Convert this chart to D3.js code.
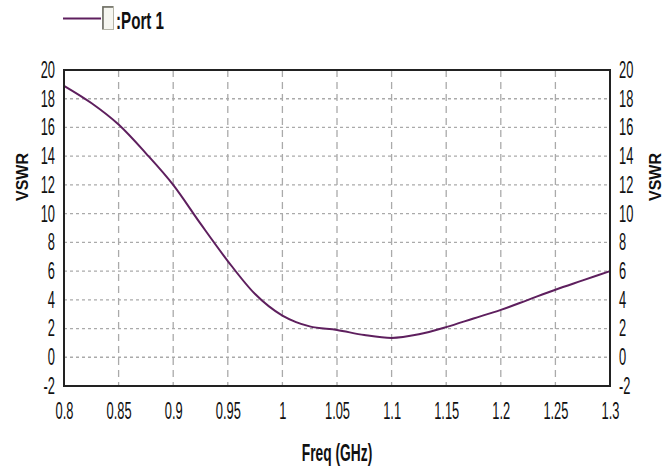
<!DOCTYPE html>
<html>
<head>
<meta charset="utf-8">
<script src="https://cdn.jsdelivr.net/npm/d3@7/dist/d3.min.js"></script>
<style>
body { margin: 0; background: #fff; }
svg { display: block; font-family: "Liberation Sans", Arial, sans-serif; }
</style>
</head>
<body>
<div id="chart"></div>
<script>
// data
var freq = [0.8, 0.825, 0.85, 0.875, 0.9, 0.925, 0.95, 0.975, 1.0, 1.0125, 1.025, 1.05, 1.075, 1.1, 1.125, 1.15, 1.175, 1.2, 1.225, 1.25, 1.275, 1.3];
var vswr = [18.9, 17.7, 16.2, 14.2, 12.0, 9.3, 6.7, 4.4, 2.9, 2.45, 2.15, 1.9, 1.55, 1.35, 1.6, 2.1, 2.7, 3.3, 4.0, 4.7, 5.35, 6.0];
var xTicks = [0.8, 0.85, 0.9, 0.95, 1, 1.05, 1.1, 1.15, 1.2, 1.25, 1.3];
var yTicks = [-2, 0, 2, 4, 6, 8, 10, 12, 14, 16, 18, 20];
var seriesName = "Port 1";
var xTitle = "Freq (GHz)";
var yTitle = "VSWR";

var svgWidth = 671;
var svgHeight = 471;
var margin = {top: 70, right: 61, bottom: 85, left: 64};
var chartWidth = svgWidth - margin.left - margin.right;
var chartHeight = svgHeight - margin.top - margin.bottom;

var lineColor = "#5e1f5e";
var sx = 0.56; // text squeeze to get the narrow look
var fs = 23;

var svg = d3.select("#chart")
  .append("svg")
  .attr("width", svgWidth)
  .attr("height", svgHeight);

var chartGroup = svg.append("g")
  .attr("transform", `translate(${margin.left}, ${margin.top})`);

var x = d3.scaleLinear().domain([0.8, 1.3]).range([0, chartWidth]);
var y = d3.scaleLinear().domain([-2, 20]).range([chartHeight, 0]);

// grid
chartGroup.selectAll(".hgrid")
  .data(yTicks.slice(1, -1))
  .enter().append("line")
  .attr("x1", 0).attr("x2", chartWidth)
  .attr("y1", d => y(d)).attr("y2", d => y(d))
  .attr("stroke", "#aaa").attr("stroke-width", 1.3)
  .attr("stroke-dasharray", "3,3");

chartGroup.selectAll(".vgrid")
  .data(xTicks.slice(1, -1))
  .enter().append("line")
  .attr("x1", d => x(d)).attr("x2", d => x(d))
  .attr("y1", 0).attr("y2", chartHeight)
  .attr("stroke", "#aaa").attr("stroke-width", 1.3)
  .attr("stroke-dasharray", "7,5");

// axes
function squeeze(g) {
  g.select(".domain").remove();
  g.selectAll("text")
    .attr("font-size", fs)
    .attr("fill", "#111")
    .attr("font-family", "'Liberation Sans', Arial, sans-serif")
    .each(function() {
      var t = d3.select(this);
      t.attr("x", (+t.attr("x") || 0) / sx).attr("transform", `scale(${sx},1)`);
    });
}

chartGroup.append("g")
  .call(d3.axisLeft(y).tickValues(yTicks).tickSize(0).tickPadding(9).tickFormat(d => String(d)))
  .call(squeeze);

chartGroup.append("g")
  .attr("transform", `translate(${chartWidth}, 0)`)
  .call(d3.axisRight(y).tickValues(yTicks).tickSize(0).tickPadding(9).tickFormat(d => String(d)))
  .call(squeeze);

chartGroup.append("g")
  .attr("transform", `translate(0, ${chartHeight})`)
  .call(d3.axisBottom(x).tickValues(xTicks).tickSize(0).tickPadding(17).tickFormat(d => String(d)))
  .call(squeeze);

// curve
var line = d3.line()
  .x((d, i) => x(freq[i]))
  .y(d => y(d))
  .curve(d3.curveMonotoneX);

chartGroup.append("path")
  .datum(vswr)
  .attr("d", line)
  .attr("fill", "none")
  .attr("stroke", lineColor)
  .attr("stroke-width", 2);

// frame
chartGroup.append("rect")
  .attr("width", chartWidth)
  .attr("height", chartHeight)
  .attr("fill", "none")
  .attr("stroke", "#222")
  .attr("stroke-width", 2);

// titles
svg.append("text")
  .attr("transform", `translate(${margin.left + chartWidth / 2}, 461) scale(0.6,1)`)
  .attr("text-anchor", "middle")
  .attr("font-size", 23)
  .attr("font-weight", "bold")
  .attr("fill", "#111")
  .text(xTitle);

[22, 655].forEach(function(cx) {
  svg.append("text")
    .attr("transform", `translate(${cx}, 177) rotate(-90)`)
    .attr("text-anchor", "middle")
    .attr("dy", "0.36em")
    .attr("font-size", 16)
    .attr("font-weight", "bold")
    .attr("fill", "#111")
    .text(yTitle);
});

// legend
var legend = svg.append("g");
legend.append("line")
  .attr("x1", 63).attr("x2", 101)
  .attr("y1", 18.5).attr("y2", 18.5)
  .attr("stroke", lineColor).attr("stroke-width", 2);
legend.append("rect")
  .attr("x", 102.5).attr("y", 6.5)
  .attr("width", 11).attr("height", 23)
  .attr("fill", "#f6f6f0")
  .attr("stroke", "#b5b5a8").attr("stroke-width", 1);
legend.append("path")
  .attr("d", "M103,29 V7 H113")
  .attr("fill", "none")
  .attr("stroke", "#6a6a60").attr("stroke-width", 1.5);
legend.append("text")
  .attr("transform", `translate(116, 29) scale(0.66,1)`)
  .attr("font-size", 23)
  .attr("font-weight", "bold")
  .attr("fill", "#111")
  .text(":" + seriesName);
</script>
</body>
</html>
